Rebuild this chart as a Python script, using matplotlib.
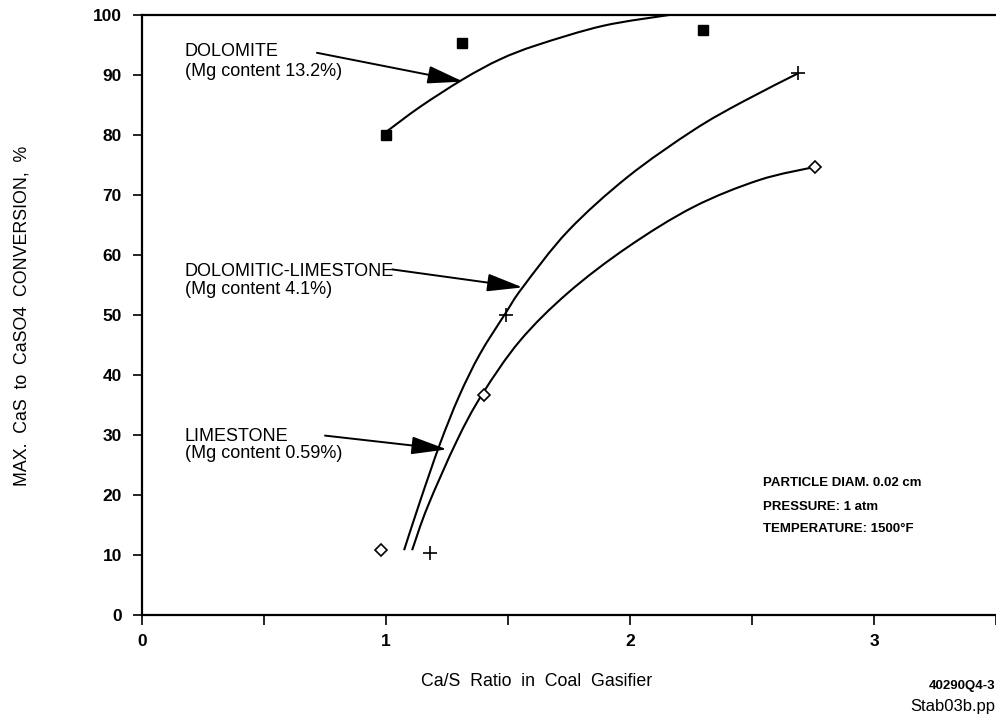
import matplotlib

matplotlib.use("Agg")
import matplotlib.pyplot as plt
from matplotlib.path import Path
from matplotlib.patches import PathPatch
from matplotlib.ticker import MultipleLocator

plt.rcParams["font.family"] = ["Liberation Sans", "DejaVu Sans"]

# measured points
dolo_x = [1.0, 1.31, 2.30]
dolo_y = [80.0, 95.3, 97.5]
doli_x = [1.18, 1.49, 2.69]
doli_y = [10.3, 50.0, 90.3]
lime_x = [0.98, 1.40, 2.76]
lime_y = [10.8, 36.7, 74.7]

# fitted curves
dolo_fit_x = [1.0, 1.14, 1.316, 1.467, 1.62, 1.89, 2.16]
dolo_fit_y = [80.5, 84.7, 89.3, 92.6, 95.0, 98.2, 100.0]
doli_fit_x = [1.074, 1.14, 1.221, 1.30, 1.385, 1.49, 1.56, 1.746, 1.99, 2.26, 2.46, 2.69]
doli_fit_y = [10.8, 19.0, 28.5, 36.5, 43.5, 50.3, 54.6, 64.0, 73.0, 80.8, 85.5, 90.3]
lime_fit_x = [1.107, 1.17, 1.29, 1.393, 1.549, 1.746, 1.99, 2.26, 2.53, 2.76]
lime_fit_y = [10.8, 18.0, 29.0, 36.7, 45.7, 53.7, 61.3, 68.0, 72.5, 74.7]


def smooth_curve(ax, xs, ys, **kw):
    # Catmull-Rom through the read points, drawn as cubic Bezier segments
    pts = list(zip(xs, ys))
    verts = [pts[0]]
    codes = [Path.MOVETO]
    for i in range(len(pts) - 1):
        p0 = pts[max(i - 1, 0)]
        p1, p2 = pts[i], pts[i + 1]
        p3 = pts[min(i + 2, len(pts) - 1)]
        c1 = (p1[0] + (p2[0] - p0[0]) / 6, p1[1] + (p2[1] - p0[1]) / 6)
        c2 = (p2[0] - (p3[0] - p1[0]) / 6, p2[1] - (p3[1] - p1[1]) / 6)
        verts += [c1, c2, p2]
        codes += [Path.CURVE4] * 3
    ax.add_patch(PathPatch(Path(verts, codes), fill=False, **kw))


fig = plt.figure(figsize=(9.96, 7.21), dpi=100)
ax = fig.add_axes([142 / 996, 106 / 721, 854 / 996, 600 / 721])

lw = 1.5
smooth_curve(ax, dolo_fit_x, dolo_fit_y, color="black", lw=lw, clip_on=False)
smooth_curve(ax, doli_fit_x, doli_fit_y, color="black", lw=lw)
smooth_curve(ax, lime_fit_x, lime_fit_y, color="black", lw=lw)

ax.plot(dolo_x, dolo_y, ls="none", marker="s", ms=7, color="black")
ax.plot(doli_x, doli_y, ls="none", marker="+", ms=10, mew=1.2, color="black")
ax.plot(lime_x, lime_y, ls="none", marker="D", ms=6.5, mew=1.2,
        mfc="white", mec="black")

ax.set_xlim(0, 3.5)
ax.set_ylim(0, 100)
ax.xaxis.set_major_locator(MultipleLocator(1))
ax.xaxis.set_minor_locator(MultipleLocator(0.5))
ax.yaxis.set_major_locator(MultipleLocator(10))
ax.tick_params(axis="y", direction="out", length=6.5, width=1.2, pad=8,
               labelsize=12.5)
ax.tick_params(axis="x", which="both", direction="out", length=7, width=1.2,
               pad=6.5, labelsize=12.5)
for lab in ax.get_xticklabels() + ax.get_yticklabels():
    lab.set_fontweight("bold")
ax.spines["right"].set_visible(False)
for s in ("left", "bottom", "top"):
    ax.spines[s].set_linewidth(1.6)

# labels with arrows
txt_kw = dict(fontsize=13, va="center", ha="left")
ax.text(0.176, 93.9, "DOLOMITE", **txt_kw)
ax.text(0.176, 90.6, "(Mg content 13.2%)", **txt_kw)
ax.text(0.176, 57.3, "DOLOMITIC-LIMESTONE", **txt_kw)
ax.text(0.176, 54.2, "(Mg content 4.1%)", **txt_kw)
ax.text(0.176, 29.8, "LIMESTONE", **txt_kw)
ax.text(0.176, 26.9, "(Mg content 0.59%)", **txt_kw)

arrow = dict(arrowstyle="-|>,head_length=2.2,head_width=0.55",
             color="black", lw=1.4, shrinkA=0, shrinkB=0)
ax.annotate("", xy=(1.316, 88.9), xytext=(0.717, 93.7), arrowprops=arrow)
ax.annotate("", xy=(1.56, 54.6), xytext=(1.025, 57.6), arrowprops=arrow)
ax.annotate("", xy=(1.25, 27.6), xytext=(0.75, 29.9), arrowprops=arrow)

info_kw = dict(fontsize=9.5, fontweight="bold", va="center", ha="left")
ax.text(2.545, 22.0, "PARTICLE DIAM. 0.02 cm", **info_kw)
ax.text(2.545, 18.0, "PRESSURE: 1 atm", **info_kw)
ax.text(2.545, 14.3, "TEMPERATURE: 1500\u00b0F", **info_kw)

fig.text(537 / 996, 1 - 682 / 721, "Ca/S  Ratio  in  Coal  Gasifier",
         fontsize=12.8, ha="center", va="center")
fig.text(22 / 996, 1 - 316 / 721, "MAX.  CaS  to  CaSO4  CONVERSION,  %",
         fontsize=12.8, rotation=90, ha="center", va="center")
fig.text(995 / 996, 1 - 686 / 721, "40290Q4-3", fontsize=9.5, fontweight="bold",
         ha="right", va="center")
fig.text(995 / 996, 1 - 707 / 721, "Stab03b.pp", fontsize=12,
         ha="right", va="center")

fig.savefig("out.png", dpi=100)
